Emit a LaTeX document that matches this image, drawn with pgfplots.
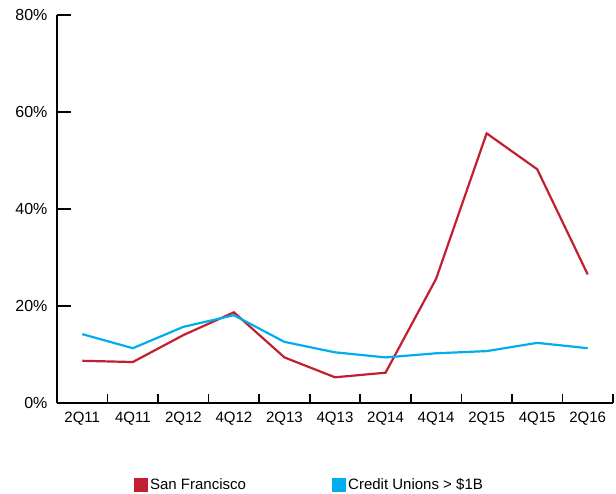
\documentclass[border=0pt]{standalone}
\usepackage{fontspec}
\setmainfont{Liberation Sans}
\usepackage{pgfplots}
\pgfplotsset{compat=1.18}
\definecolor{sfred}{HTML}{C21F32}
\definecolor{cublue}{HTML}{00AEEF}
\begin{document}
\begin{tikzpicture}
\useasboundingbox (-57pt,-90pt) rectangle (559pt,403pt);
\begin{axis}[
  at={(0pt,0pt)}, anchor=south west,
  scale only axis, width=556pt, height=388pt,
  xmin=-0.5, xmax=10.5, ymin=0, ymax=80,
  axis x line*=bottom, axis y line*=left,
  axis line style={-, line width=1.6pt, black},
  xtick={-0.5,0.5,...,10.5},
  x tick label as interval,
  xticklabels={2Q11,4Q11,2Q12,4Q12,2Q13,4Q13,2Q14,4Q14,2Q15,4Q15,2Q16},
  xtick style={line width=1.6pt, black, /pgfplots/major tick length=9pt},
  ytick style={line width=1.8pt, black, /pgfplots/major tick length=14pt},
  tick align=inside,
  ytick={0,20,40,60,80},
  yticklabels={0\%,20\%,40\%,60\%,80\%},
  y tick label style={font=\fontsize{16}{16}\selectfont, xshift=-6pt},
  x tick label style={font=\fontsize{15}{15}\selectfont, yshift=-5pt},
  legend columns=2,
  legend style={at={(0.454,-0.211)}, anchor=center, draw=none,
    font=\fontsize{15}{15}\selectfont,
    /tikz/every even column/.append style={column sep=84pt}},
  legend image code/.code={\fill[#1] (0pt,-6pt) rectangle (12pt,6pt);},
]
\addplot[color=sfred, line width=2.2pt, mark=none] coordinates {
(0,8.7) (1,8.45) (2,14.0) (3,18.7) (4,9.4) (5,5.3) (6,6.25) (7,25.6) (8,55.6) (9,48.2) (10,26.5)};
\addlegendentry{San Francisco}
\addplot[color=cublue, line width=2.2pt, mark=none] coordinates {
(0,14.2) (1,11.3) (2,15.7) (3,18.1) (4,12.6) (5,10.45) (6,9.4) (7,10.25) (8,10.7) (9,12.4) (10,11.3)};
\addlegendentry{Credit Unions > \$1B}
\end{axis}
\end{tikzpicture}
\end{document}
